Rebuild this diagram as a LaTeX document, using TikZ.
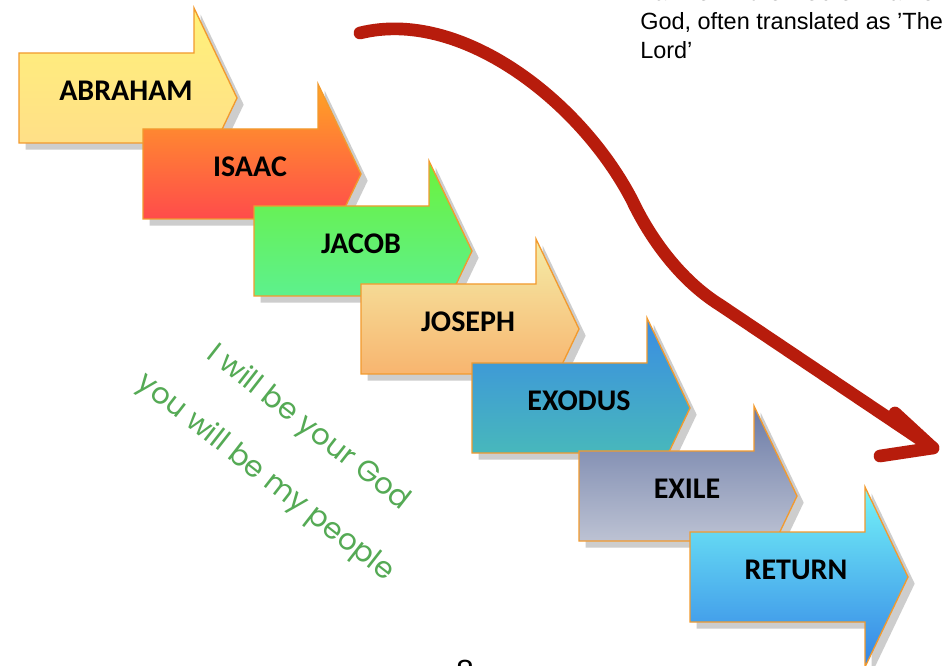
\documentclass[tikz,border=0pt]{standalone}
\usepackage{fontspec}
\setmainfont{Liberation Sans}
\newfontfamily\labelfont{Carlito}
\newfontfamily\handfont{Poppins}
\usetikzlibrary{arrows.meta,positioning,calc,shadows}
\definecolor{Edge}{HTML}{F29A2E}
\definecolor{Swoop}{HTML}{B71C0C}
\definecolor{Promise}{HTML}{55AA55}
\definecolor{AbrTop}{HTML}{FFF27A}
\definecolor{AbrBot}{HTML}{FFD98C}
\definecolor{IsaTop}{HTML}{FFA424}
\definecolor{IsaBot}{HTML}{FF2E58}
\definecolor{JacTop}{HTML}{6CF23C}
\definecolor{JacBot}{HTML}{58F0A8}
\definecolor{JosTop}{HTML}{F4EDA8}
\definecolor{JosBot}{HTML}{F9A25C}
\definecolor{ExoTop}{HTML}{3A8CE4}
\definecolor{ExoBot}{HTML}{4CC6AE}
\definecolor{ExiTop}{HTML}{6A7AA6}
\definecolor{ExiBot}{HTML}{D8DAE2}
\definecolor{RetTop}{HTML}{74F4F8}
\definecolor{RetBot}{HTML}{3484E6}
\tikzset{
  stage/.style={draw=Edge,line width=1pt,line join=miter,
    drop shadow={shadow xshift=5pt,shadow yshift=-5pt,opacity=.28,fill=black!70}},
  stageshape/.style 2 args={insert path={(#1,#2) -- ++(175,0) -- ++(0,-45) -- ++(43,90)
    -- ++(-43,90) -- ++(0,-45) -- ++(-175,0) -- cycle}},
  tag/.style={font=\labelfont\bfseries\fontsize{22.5}{26}\selectfont,anchor=base,inner sep=0pt},
  swoop/.style={draw=Swoop,line width=9.5pt,line cap=round,line join=round},
  promise/.style={font=\handfont\fontsize{22}{26}\selectfont,text=Promise,rotate=-38,inner sep=0pt},
  note/.style={font=\fontsize{17.6}{22}\selectfont,anchor=base west,inner sep=0pt},
}

\begin{document}
\begin{tikzpicture}[x=0.75pt,y=-0.75pt]
  \useasboundingbox (0,0) rectangle (942,666);
  \fill[white] (0,0) rectangle (942,666);
  \clip (0,0) rectangle (942,666);

  % the seven steps
  \path[stage,top color=AbrTop,bottom color=AbrBot] [stageshape={19}{53}];
  \node[tag] (abraham) at (126,101) {ABRAHAM};
  \path[stage,top color=IsaTop,bottom color=IsaBot] [stageshape={143}{129}];
  \node[tag] (isaac) at (250,177) {ISAAC};
  \path[stage,top color=JacTop,bottom color=JacBot] [stageshape={254}{206}];
  \node[tag] (jacob) at (361,254) {JACOB};
  \path[stage,top color=JosTop,bottom color=JosBot] [stageshape={361}{284}];
  \node[tag] (joseph) at (468,332) {JOSEPH};
  \path[stage,top color=ExoTop,bottom color=ExoBot] [stageshape={472}{363}];
  \node[tag] (exodus) at (579,410) {EXODUS};
  \path[stage,top color=ExiTop,bottom color=ExiBot] [stageshape={579}{451}];
  \node[tag] (exile) at (687,498) {EXILE};
  \path[stage,top color=RetTop,bottom color=RetBot] [stageshape={690}{532}];
  \node[tag] (return) at (796,579) {RETURN};

  % red swoop
  \coordinate (swoopstart) at (360,33);
  \coordinate (swoopbend) at (632,200);
  \coordinate (swoopknee) at (720,305);
  \coordinate (swooptip) at (933,448);
  \coordinate (barbup) at (895,413);
  \coordinate (barblow) at (880,456);
  \draw[swoop] (swoopstart) .. controls (460,8) and (580,100) .. (swoopbend)
    .. controls (650,238) and (680,280) .. (swoopknee) -- (swooptip);
  \draw[swoop] (barbup) -- (swooptip) -- (barblow);

  % covenant words
  \node[promise] (godline) at (308,428) {I will be your God};
  \node[promise] (peopleline) at (265,478) {you will be my people};

  % note on the name
  \node[note] (yahweh) at (640,1) {Yahweh – the Hebrew name};
  \node[note] (godnote) at (640,30) {God, often translated as {\char39}The};
  \node[note] (lordnote) at (640,59) {Lord{\char39}};

  % page number
  \node[font=\fontsize{24}{28}\selectfont,anchor=base,inner sep=0pt] (pageno) at (465,682) {8};
\end{tikzpicture}
\end{document}
